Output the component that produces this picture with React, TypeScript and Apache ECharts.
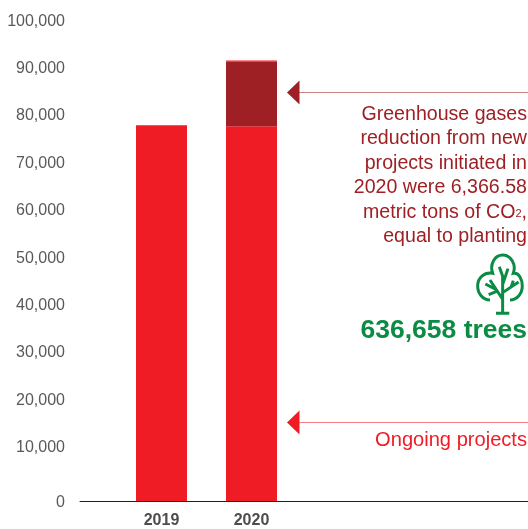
import React, { useEffect, useRef } from "react";
import * as echarts from "echarts";

const years = ["", "2019", "2020", "", ""];
const ongoing = [null, 78100, 77900, null, null];
const newProjects = [null, null, 13400, null, null];
const topEdge = [null, null, 300, null, null];
const noteLines = ["Greenhouse gases", "reduction from new", "projects initiated in", "2020 were 6,366.58"];
const RED = "#ef1c25";
const DARK = "#9e1f24";
const GREEN = "#0b8c44";
const FONT = "Liberation Sans";

const TREE =
  "M60 150 C38 150 23 130 23 108 C23 84 42 66 68 70 C58 40 76 15 98 15 C122 15 140 42 130 70 C148 66 157 90 157 108 C157 130 142 150 120 150 " +
  "M98 190 L98 78 M98 128 L146 96 M124 110 L130 92 M98 104 L114 56 M100 84 L88 50 M98 148 L60 90 M78 118 L46 102 M80 124 L56 134 " +
  "M78 190 L118 190";

echarts.graphic.registerShape("tree", echarts.graphic.extendPath(TREE, {}) as any);

export default function App() {
  const ref = useRef<HTMLDivElement>(null);
  useEffect(() => {
    const chart = echarts.init(ref.current!, undefined, { renderer: "svg" });
    const shift = (v: number) => (v === 0 ? "s0" : "s" + Math.round((100000 - v) / 10000));
    const rich: Record<string, any> = {};
    for (let i = 0; i <= 10; i++) {
      rich["s" + i] = { fontFamily: FONT, fontSize: 16, color: "#58595b", padding: [0, 0, i * 1.4, 0] };
    }
    rich.s0 = { fontFamily: FONT, fontSize: 16, color: "#58595b" };
    const bar = (name: string, values: (number | null)[], color: string) => ({
      name,
      type: "bar",
      stack: "total",
      barWidth: 51,
      xAxisIndex: 0,
      yAxisIndex: 0,
      itemStyle: { color },
      data: values,
    });
    const textItem = (text: string, y: number, fill: string, fontSize = 19.6, fontWeight = "normal") => ({
      type: "text",
      x: 527,
      y,
      style: { text, align: "right", verticalAlign: "middle", fontFamily: FONT, fontSize, fontWeight, fill },
    });
    chart.setOption({
      animation: false,
      grid: [
        { left: 26.5, width: 450, top: 20, bottom: 28 },
        { left: 80, right: 0, top: 20, bottom: 28 },
      ],
      xAxis: [
        {
          type: "category",
          gridIndex: 0,
          data: years,
          axisTick: { show: false },
          axisLine: { show: false },
          axisLabel: {
            interval: 0,
            fontFamily: FONT,
            fontWeight: "bold",
            fontSize: 16,
            color: "#4d4d4f",
            margin: 10,
          },
        },
        {
          type: "value",
          gridIndex: 1,
          min: 0,
          max: 1,
          splitLine: { show: false },
          axisTick: { show: false },
          axisLabel: { show: false },
          axisLine: { show: true, onZero: false, lineStyle: { color: "#231f20", width: 1 } },
        },
      ],
      yAxis: [
        {
          type: "value",
          gridIndex: 0,
          min: 0,
          max: 100000,
          show: false,
        },
        {
          type: "value",
          gridIndex: 1,
          min: 0,
          max: 100000,
          interval: 10000,
          splitLine: { show: false },
          axisLine: { show: false },
          axisTick: { show: false },
          axisLabel: {
            margin: 15,
            align: "right",
            rich,
            formatter: (v: number) => `{${shift(v)}|${v.toLocaleString("en-US")}}`,
          },
        },
      ],
      series: [
        bar("Ongoing projects", ongoing, RED),
        bar("New projects", newProjects, DARK),
        bar("Top edge", topEdge, RED),
      ],
      graphic: [
        { type: "line", shape: { x1: 299, y1: 92.5, x2: 528, y2: 92.5 }, style: { stroke: "#cb8285", lineWidth: 1.2 } },
        { type: "polygon", shape: { points: [[287, 92.5], [299.5, 80.5], [299.5, 104.5]] }, style: { fill: DARK } },
        { type: "line", shape: { x1: 299, y1: 422.5, x2: 528, y2: 422.5 }, style: { stroke: "#f47f84", lineWidth: 1.2 } },
        { type: "polygon", shape: { points: [[287, 422.5], [299.5, 410.5], [299.5, 434.5]] }, style: { fill: RED } },
        ...noteLines.map((t, i) => textItem(t, 113 + i * 24.4, DARK)),
        {
          type: "text",
          x: 527,
          y: 210.6,
          style: {
            text: "{a|metric tons of CO}{b|2}{a|,}",
            align: "right",
            verticalAlign: "middle",
            rich: {
              a: { fontFamily: FONT, fontSize: 19.6, fill: DARK },
              b: { fontFamily: FONT, fontSize: 11, fill: DARK, padding: [5, 0, 0, 0] },
            },
          },
        },
        textItem("equal to planting", 235, DARK),
        {
          type: "tree",
          x: 470,
          y: 250,
          scaleX: 1 / 3,
          scaleY: 1 / 3,
          style: { fill: "none", stroke: GREEN, lineWidth: 9 },
        },
        textItem("636,658 trees", 329, GREEN, 26.5, "bold"),
        textItem("Ongoing projects", 439, RED, 20.1),
      ],
    });
    return () => chart.dispose();
  }, []);
  return <div ref={ref} style={{ position: "fixed", left: 0, top: 0, width: 528, height: 529 }} />;
}
